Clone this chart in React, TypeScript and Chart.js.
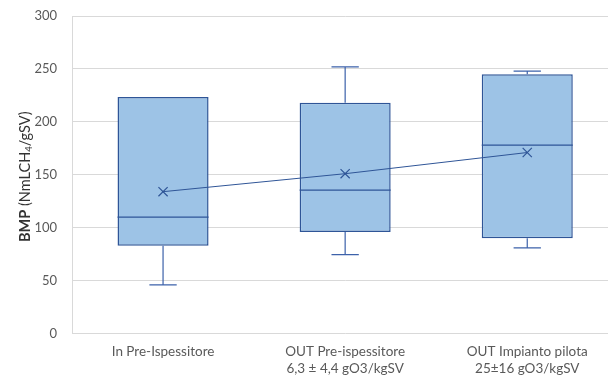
import React, { useEffect, useRef } from "react";
import { Chart, registerables } from "chart.js";

Chart.register(...registerables);

const categories: string[][] = [
  ["In Pre-Ispessitore"],
  ["OUT Pre-ispessitore", "6,3 ± 4,4 gO3/kgSV"],
  ["OUT Impianto pilota", "25±16 gO3/kgSV"],
];
const minValues = [46, 74.5, 81];
const q1Values = [83, 96, 90];
const medianValues = [110, 135.5, 178];
const q3Values = [223.5, 218, 245];
const maxValues = [223.5, 252, 248];
const meanValues = [134, 151, 171];
const yMin = 0;
const yMax = 300;
const yStep = 50;

const FONT = "Lato, 'Open Sans', sans-serif";
const LINE = "#2F5597";
const FILL = "#9DC3E6";
const GRID = "#D9D9D9";
const TEXT = "#595959";

const boxPlugin = {
  id: "boxExtras",
  afterDatasetDraw(chart: any, args: any) {
    if (args.index !== 0) return;
    const ctx = chart.ctx;
    const y = chart.scales.y;
    const meta = chart.getDatasetMeta(0);
    ctx.save();
    meta.data.forEach((bar: any, i: number) => {
      const { x, width } = bar.getProps(["x", "width"], true);
      const cap = width * 0.3;
      const yQ1 = y.getPixelForValue(q1Values[i]);
      const yQ3 = y.getPixelForValue(q3Values[i]);
      const yMinP = y.getPixelForValue(minValues[i]);
      const yMaxP = y.getPixelForValue(maxValues[i]);
      const yMed = y.getPixelForValue(medianValues[i]);
      ctx.strokeStyle = "#3D62AA";
      ctx.lineWidth = 1.2;
      ctx.beginPath();
      ctx.moveTo(x, yQ1);
      ctx.lineTo(x, yMinP);
      ctx.moveTo(x - cap / 2, yMinP);
      ctx.lineTo(x + cap / 2, yMinP);
      if (maxValues[i] > q3Values[i]) {
        ctx.moveTo(x, yQ3);
        ctx.lineTo(x, yMaxP);
        ctx.moveTo(x - cap / 2, yMaxP);
        ctx.lineTo(x + cap / 2, yMaxP);
      }
      ctx.stroke();
      ctx.strokeStyle = LINE;
      ctx.lineWidth = 1.3;
      ctx.beginPath();
      ctx.moveTo(x - width / 2, yMed);
      ctx.lineTo(x + width / 2, yMed);
      ctx.stroke();
    });
    ctx.restore();
  },
};

const titlePlugin = {
  id: "yTitle",
  afterDraw(chart: any) {
    const ctx = chart.ctx;
    const area = chart.chartArea;
    const cy = (area.top + area.bottom) / 2 + 2;
    const cx = 25;
    const size = 14.5;
    const parts = [
      { t: "BMP", f: `bold ${size}px ${FONT}`, dy: 0 },
      { t: " (NmLCH", f: `${size}px ${FONT}`, dy: 0 },
      { t: "4", f: `${size * 0.65}px ${FONT}`, dy: 3.5 },
      { t: "/gSV)", f: `${size}px ${FONT}`, dy: 0 },
    ];
    ctx.save();
    let total = 0;
    const widths = parts.map((p) => {
      ctx.font = p.f;
      const w = ctx.measureText(p.t).width;
      total += w;
      return w;
    });
    ctx.translate(cx, cy);
    ctx.rotate(-Math.PI / 2);
    ctx.fillStyle = "#333333";
    ctx.textBaseline = "middle";
    ctx.textAlign = "left";
    let pos = -total / 2;
    parts.forEach((p, i) => {
      ctx.font = p.f;
      ctx.fillText(p.t, pos, p.dy);
      pos += widths[i];
    });
    ctx.restore();
  },
};

export default function App() {
  const ref = useRef<HTMLCanvasElement | null>(null);
  useEffect(() => {
    if (!ref.current) return;
    const chart = new Chart(ref.current, {
      type: "bar",
      data: {
        labels: categories,
        datasets: [
          {
            type: "bar",
            data: q1Values.map((q, i) => [q, q3Values[i]]) as any,
            backgroundColor: FILL,
            borderColor: LINE,
            borderWidth: 1.5,
            borderSkipped: false,
            barPercentage: 0.5,
            categoryPercentage: 1,
            order: 2,
          } as any,
          {
            type: "line",
            data: meanValues,
            borderColor: LINE,
            borderWidth: 1,
            fill: false,
            tension: 0,
            pointStyle: "crossRot",
            pointRadius: 6.5,
            pointBorderColor: LINE,
            pointBorderWidth: 1.2,
            order: 1,
          } as any,
        ],
      },
      options: {
        responsive: false,
        animation: false,
        layout: { padding: { top: 16, right: 0, left: 0, bottom: 0 } },
        plugins: {
          legend: { display: false },
          tooltip: { enabled: false },
        },
        scales: {
          x: {
            grid: { display: false, drawTicks: false },
            border: { display: false },
            ticks: {
              color: TEXT,
              font: { family: FONT, size: 13.5, lineHeight: 1.3 },
              padding: 9,
              maxRotation: 0,
              autoSkip: false,
            },
            afterFit: (scale: any) => {
              scale.height = 44.5;
            },
          },
          y: {
            min: yMin,
            max: yMax,
            grid: { color: GRID, drawTicks: false, lineWidth: 1 },
            border: { display: true, color: GRID },
            ticks: {
              stepSize: yStep,
              color: TEXT,
              font: { family: FONT, size: 13 },
              padding: 15,
            },
            afterFit: (scale: any) => {
              scale.width = 72;
              scale.paddingTop = 0;
              scale.paddingBottom = 0;
            },
          },
        },
      },
      plugins: [boxPlugin, titlePlugin],
    });
    return () => chart.destroy();
  }, []);
  return (
    <div
      style={{
        position: "absolute",
        left: 0,
        top: 0,
        width: 608,
        height: 378,
        overflow: "hidden",
        background: "#fff",
      }}
    >
      <canvas ref={ref} width={626} height={378} style={{ width: 626, height: 378, display: "block" }} />
    </div>
  );
}
